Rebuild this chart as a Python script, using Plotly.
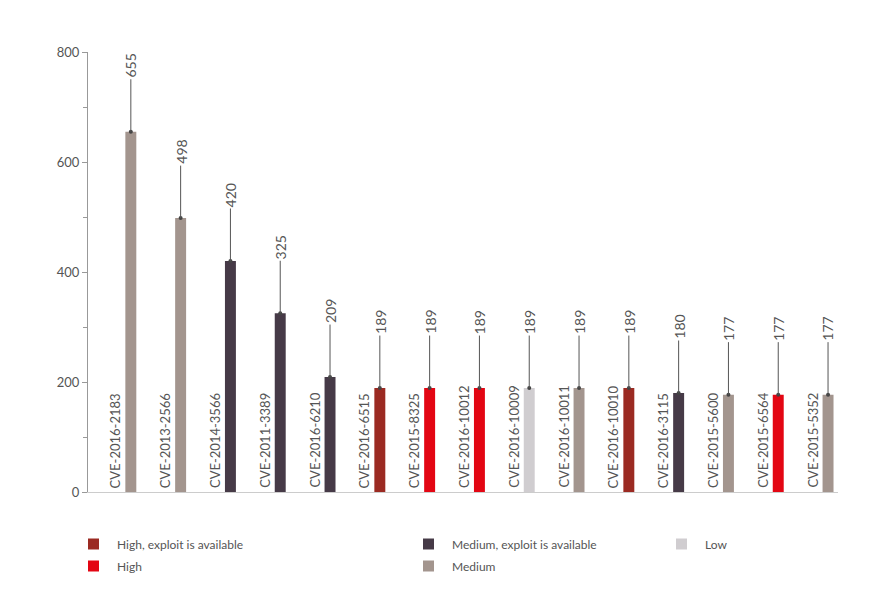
import plotly.graph_objects as go

cves = ["CVE-2016-2183", "CVE-2013-2566", "CVE-2014-3566", "CVE-2011-3389", "CVE-2016-6210",
        "CVE-2016-6515", "CVE-2015-8325", "CVE-2016-10012", "CVE-2016-10009", "CVE-2016-10011",
        "CVE-2016-10010", "CVE-2016-3115", "CVE-2015-5600", "CVE-2015-6564", "CVE-2015-5352"]
counts = [655, 498, 420, 325, 209, 189, 189, 189, 189, 189, 189, 180, 177, 177, 177]
severity = ["Medium", "Medium", "Medium, exploit is available", "Medium, exploit is available",
            "Medium, exploit is available", "High, exploit is available", "High", "High", "Low",
            "Medium", "High, exploit is available", "Medium, exploit is available", "Medium",
            "High", "Medium"]

COLORS = {"High, exploit is available": "#9b2a22", "High": "#e30613",
          "Medium, exploit is available": "#463a47", "Medium": "#a3958e", "Low": "#d0cdd0"}
TXT = "#555555"
FONT = "Lato"

xs = list(range(len(cves)))
fig = go.Figure()
fig.add_trace(go.Bar(x=xs, y=counts, width=0.22,
                     marker_color=[COLORS[s] for s in severity], marker_line_width=0))
fig.add_trace(go.Scatter(x=xs, y=counts, mode="markers",
                         marker=dict(size=4, color="#444444")))

for x, c, v in zip(xs, cves, counts):
    fig.add_annotation(x=x - 0.32, y=0, text=c, textangle=-90, showarrow=False,
                       yanchor="bottom", yshift=2, font=dict(size=13, color=TXT, family=FONT))
    fig.add_annotation(x=x, y=v, text=str(v), textangle=-90, showarrow=True,
                       arrowhead=0, arrowwidth=1, arrowcolor="#555555", ax=0, ay=-66,
                       font=dict(size=14, color=TXT, family=FONT))

# legend
legend_items = [("High, exploit is available", 80, 536), ("High", 80, 558),
                ("Medium, exploit is available", 415, 536), ("Medium", 415, 558),
                ("Low", 668, 536)]
W, H = 874, 595
for name, px, py in legend_items:
    fig.add_shape(type="rect", xref="paper", yref="paper",
                  x0=(px - 80) / (W - 124), x1=(px - 80 + 11) / (W - 124),
                  y0=(H - 111 - (py - 5.5)) / (H - 155), y1=(H - 111 - (py + 5.5)) / (H - 155),
                  fillcolor=COLORS[name], line_width=0)
    fig.add_annotation(xref="paper", yref="paper", x=(px - 80 + 27) / (W - 124),
                       y=(H - 111 - py) / (H - 155), text=name, showarrow=False,
                       xanchor="left", yanchor="middle", font=dict(size=12, color=TXT, family=FONT))

fig.update_layout(
    width=W, height=H, margin=dict(l=80, r=44, t=44, b=111),
    plot_bgcolor="white", paper_bgcolor="white", showlegend=False,
    font=dict(family=FONT, color=TXT),
    xaxis=dict(range=[-0.86, 14.2], showticklabels=False, showgrid=False, zeroline=False,
               showline=True, linecolor="#cccccc", linewidth=1),
    yaxis=dict(range=[0, 800], tickvals=[0, 200, 400, 600, 800], showgrid=False,
               zeroline=False, showline=True, linecolor="#999999", ticks="outside",
               ticklen=5, tickcolor="#999999", tickfont=dict(size=13, color=TXT),
               minor=dict(tickvals=[100, 300, 500, 700], ticks="outside", ticklen=4,
                          tickcolor="#999999")),
)
fig.write_html("out.html")
